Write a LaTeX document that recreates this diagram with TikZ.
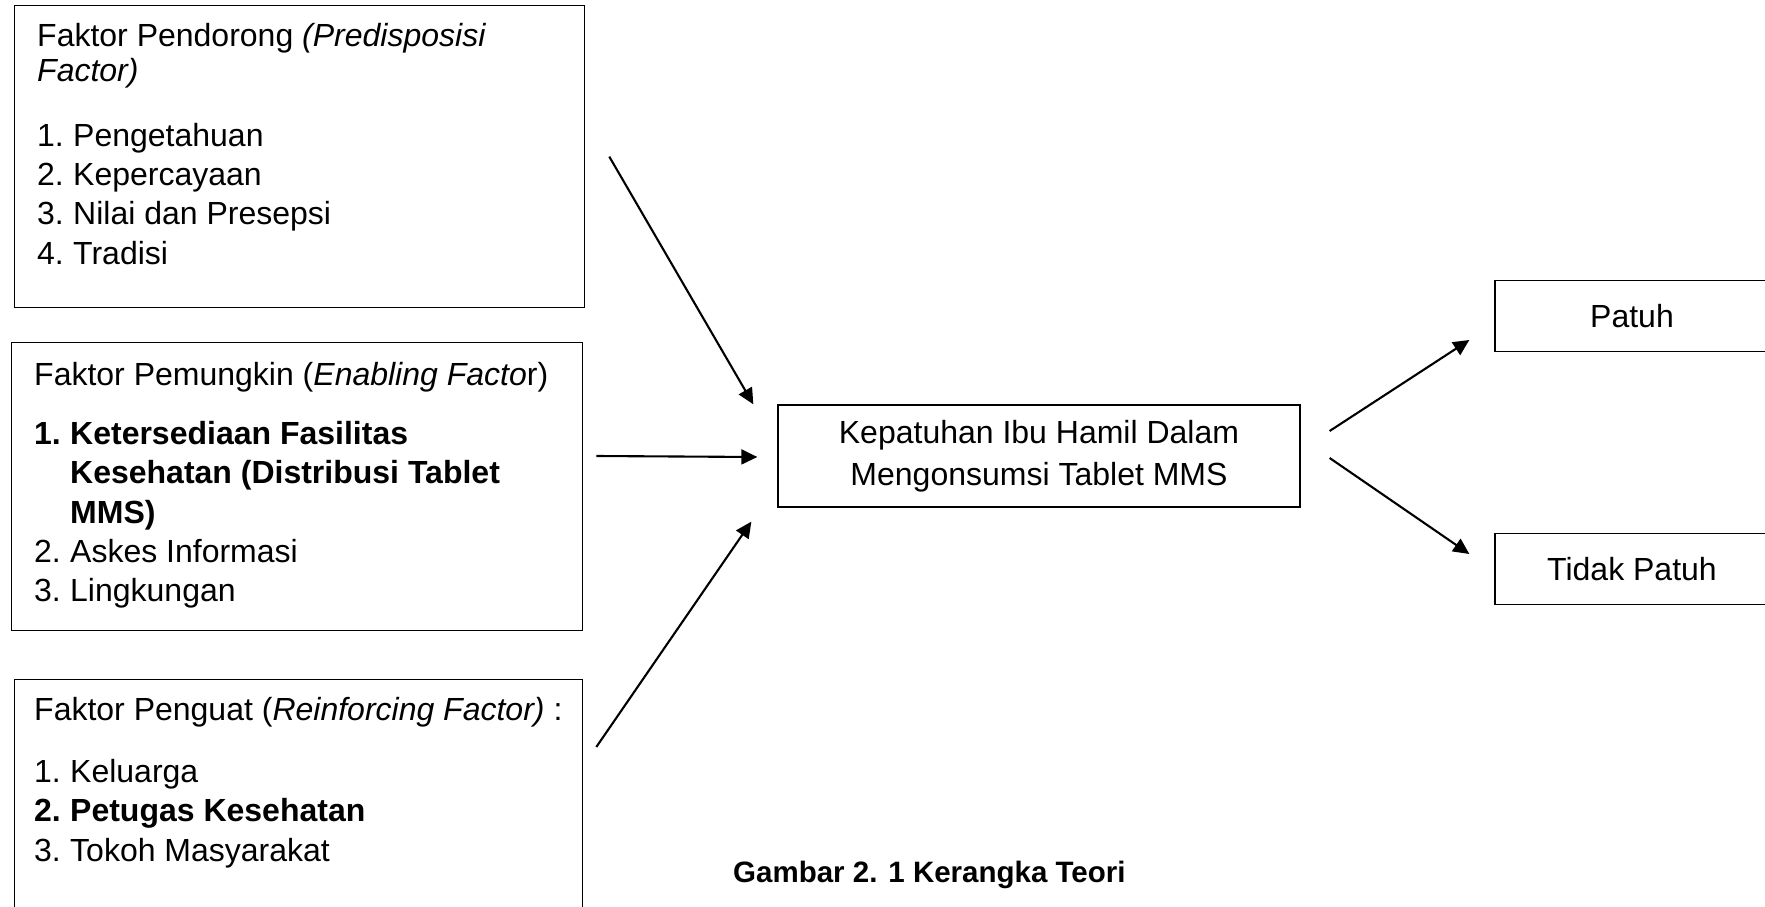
\documentclass[tikz,border=0pt]{standalone}
\usepackage{fontspec}
\setmainfont{Liberation Sans}
\usetikzlibrary{calc,arrows.meta}
\def\itm#1#2{\makebox[36pt][l]{#1}#2}

\tikzset{
  kotak/.style={draw, line width=1.3pt, inner sep=0pt},
  isi/.style={anchor=north west, align=left, inner sep=0pt, font=\fontsize{32}{39.4}\selectfont},
  panah/.style={line width=2.1pt, -{Triangle[length=16pt,width=15pt]}},
}

\begin{document}
\begin{tikzpicture}[x=1pt,y=-1pt]
	%%%%% START %%%%%
	\useasboundingbox (0,0) rectangle (1765,907);
	\fill[white] (0,0) rectangle (1765,907);

	\node[kotak, anchor=north west, minimum width=570pt, minimum height=302pt] (pendorong) at (14,5) {};
	\node[isi] (pendorongisi) at (37,22.7) {Faktor Pendorong \textit{(Predisposisi}\\[-4.4pt]
		\textit{Factor)}\\[25.6pt]
		\itm{1.}{Pengetahuan}\\
		\itm{2.}{Kepercayaan}\\
		\itm{3.}{Nilai dan Presepsi}\\
		\itm{4.}{Tradisi}};

	\node[kotak, anchor=north west, minimum width=571pt, minimum height=288pt] (pemungkin) at (11,342) {};
	\node[isi] (pemungkinisi) at (34,362) {Faktor Pemungkin (\textit{Enabling Facto}r)\\[19.6pt]
		\textbf{\itm{1.}{Ketersediaan Fasilitas}}\\
		\textbf{\itm{}{Kesehatan (Distribusi Tablet}}\\
		\textbf{\itm{}{MMS)}}\\
		\itm{2.}{Askes Informasi}\\
		\itm{3.}{Lingkungan}};

	\node[kotak, anchor=north west, minimum width=568pt, minimum height=260pt] (penguat) at (14,679) {};
	\node[isi] (penguatisi) at (34,697) {Faktor Penguat (\textit{Reinforcing Factor)} :\\[22.6pt]
		\itm{1.}{Keluarga}\\
		\textbf{\itm{2.}{Petugas Kesehatan}}\\
		\itm{3.}{Tokoh Masyarakat}};

	\node[kotak, minimum width=522pt, minimum height=102pt, align=center, font=\fontsize{32}{42}\selectfont] (kepatuhan) at (1039,456) {Kepatuhan Ibu Hamil Dalam\\Mengonsumsi Tablet MMS};

	\node[kotak, minimum width=274pt, minimum height=71pt, font=\fontsize{32}{39.4}\selectfont] (patuh) at (1632,316) {Patuh};
	\node[kotak, minimum width=274pt, minimum height=71pt, font=\fontsize{32}{39.4}\selectfont] (tidak) at (1632,569) {Tidak Patuh};

	\draw[panah] ($(pendorong.east)+(24,0)$) -- ($(kepatuhan.north west)+(-24,0)$);
	\draw[panah] ($(pemungkin.east |- kepatuhan.west)+(13,0)$) -- ($(kepatuhan.west)+(-20,1)$);
	\draw[panah] ($(penguat.north east)+(13,68)$) -- ($(kepatuhan.south west)+(-26,14)$);

	\draw[panah] ($(kepatuhan.east)+(29,-25)$) -- ($(patuh.west)+(-25,24)$);
	\draw[panah] ($(kepatuhan.east)+(29,2)$) -- ($(tidak.west)+(-25,-15)$);

	\node[anchor=base west, inner sep=0pt, font=\bfseries\fontsize{29.5}{35}\selectfont] (judul) at (733,882) {Gambar 2. 1 Kerangka Teori};
	%%%%% END %%%%%
\end{tikzpicture}
\end{document}
